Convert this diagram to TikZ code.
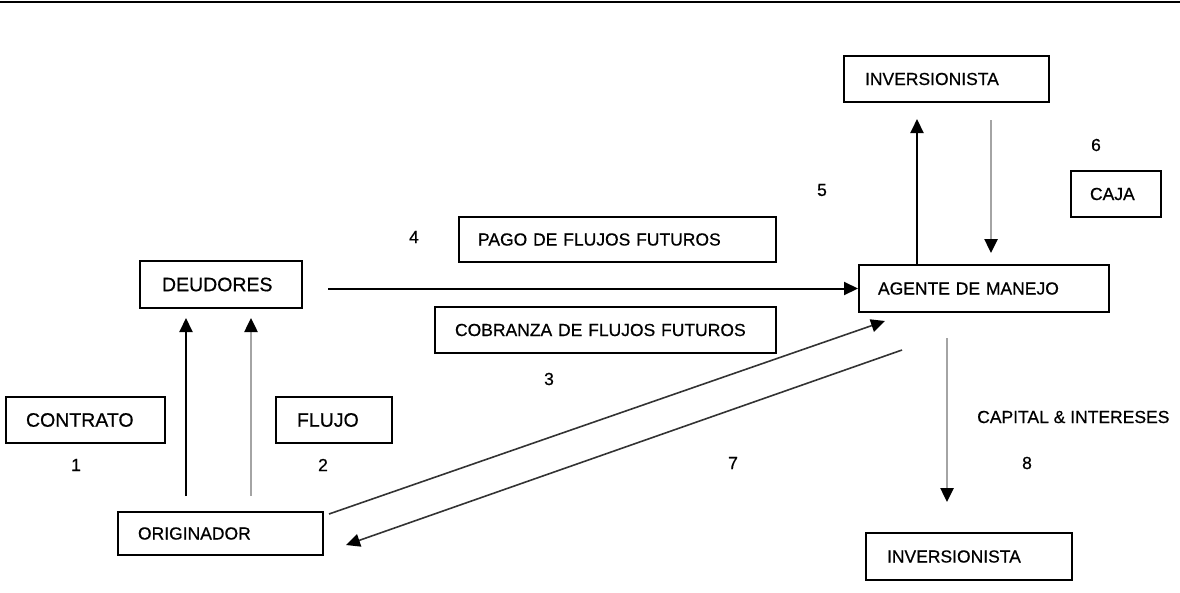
\documentclass[tikz,border=0pt]{standalone}
\usepackage{fontspec}
\setmainfont{Liberation Sans}[FakeBold=0.6]
\usetikzlibrary{arrows.meta}
\newcommand\figsmall{\fontsize{17.5pt}{21pt}\selectfont}
\newcommand\figbig{\fontsize{19.5pt}{23pt}\selectfont}
\definecolor{flowgray}{HTML}{A4A4A4}
\definecolor{diag}{HTML}{333333}
\tikzset{
  % box: total width, height, left text inset
  box/.style n args={3}{draw=black, line width=2pt, minimum height=#2,
    text width=#1, inner xsep=#3, inner ysep=0pt, align=left, font=\figsmall},
  num/.style={inner sep=0pt, font=\figsmall},
  tip/.style={-{Triangle[length=14pt,width=13pt,color=black]}},
  blackarrow/.style={tip, line width=2pt, draw=black},
  grayarrow/.style={tip, line width=2.5pt, draw=flowgray},
  diagarrow/.style={tip, line width=1.6pt, draw=diag},
}
\begin{document}
\begin{tikzpicture}[x=1pt,y=-1pt]
\useasboundingbox (0,0) rectangle (1180,592);
% rule across the top
\draw[line width=2.5pt] (0,2) -- (1180,2);

% boxes
\node[box={163pt}{46pt}{21pt}] (invtop) at (946.5,79) {INVERSIONISTA};
\node[box={52pt}{46pt}{19pt}] (caja) at (1116,194) {CAJA};
\node[box={212pt}{47pt}{19pt}] (agente) at (984,288.5) {AGENTE DE MANEJO};
\node[box={118pt}{47pt}{22pt}, font=\figbig] (deudores) at (221,284.5) {DEUDORES};
\node[box={279pt}{45pt}{19pt}] (pago) at (617.5,239.5) {PAGO DE FLUJOS FUTUROS};
\node[box={301pt}{46pt}{20pt}] (cobranza) at (605.5,330) {COBRANZA DE FLUJOS FUTUROS};
\node[box={119pt}{46pt}{20pt}, font=\figbig] (contrato) at (85.5,420) {CONTRATO};
\node[box={74pt}{46pt}{21pt}, font=\figbig] (flujo) at (334,420) {FLUJO};
\node[box={165pt}{43pt}{20pt}] (originador) at (220.5,533.5) {ORIGINADOR};
\node[box={164pt}{47pt}{21pt}] (invbot) at (969,556.5) {INVERSIONISTA};

% step numbers and free label
\node[num] (n1) at (76,465) {1};
\node[num] (n2) at (323,465) {2};
\node[num] (n3) at (549,379) {3};
\node[num] (n4) at (414,237) {4};
\node[num] (n5) at (822,190) {5};
\node[num] (n6) at (1096,145) {6};
\node[num] (n7) at (733,463) {7};
\node[num] (n8) at (1027,463) {8};
\node[num, anchor=west] (capital) at (977,417) {CAPITAL \& INTERESES};

% originador to deudores
\draw[blackarrow, shorten <=15pt, shorten >=9pt]
  ([xshift=69pt]originador.north west) -- ([xshift=69pt]originador.north west |- deudores.south);
\draw[grayarrow, shorten <=15pt, shorten >=9pt]
  ([xshift=134pt]originador.north west) -- ([xshift=134pt]originador.north west |- deudores.south);

% deudores to agente
\draw[blackarrow, shorten <=25pt] (deudores.east |- agente.west) -- (agente.west);

% agente and inversionista (top)
\draw[blackarrow, shorten >=16pt]
  ([xshift=59pt]agente.north west) -- ([xshift=59pt]agente.north west |- invtop.south);
\draw[grayarrow, shorten <=17pt, shorten >=11pt]
  ([xshift=148pt]invtop.south west) -- ([xshift=148pt]invtop.south west |- agente.north);

% agente to inversionista (bottom)
\draw[grayarrow, shorten <=25pt, shorten >=30pt]
  ([xshift=89pt]agente.south west) -- ([xshift=89pt]agente.south west |- invbot.north);

% originador and agente, both ways
\draw[diagarrow]
  ([xshift=5pt,yshift=-3pt]originador.north east) -- ([xshift=27pt,yshift=-8pt]agente.south west);
\draw[diagarrow]
  ([xshift=44pt,yshift=-37pt]agente.south west) -- ([xshift=22pt,yshift=-11.5pt]originador.east);
\end{tikzpicture}
\end{document}
